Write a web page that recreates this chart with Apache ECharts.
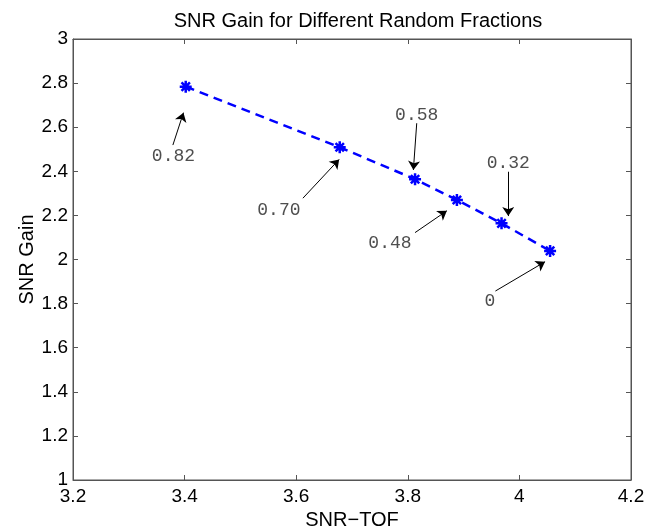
<!DOCTYPE html>
<html>
<head>
<meta charset="utf-8">
<script src="https://cdn.jsdelivr.net/npm/echarts@6/dist/echarts.min.js"></script>
<style>
html,body{margin:0;padding:0;background:#fff;}
#chart{width:663px;height:531px;}
</style>
</head>
<body>
<div id="chart"></div>
<script>
// data points (SNR-TOF, SNR Gain) and their random fraction labels
var fractions = ['0.82', '0.70', '0.58', '0.48', '0.32', '0'];
var snrTof = [3.402, 3.678, 3.813, 3.888, 3.968, 4.055];
var snrGain = [2.784, 2.509, 2.364, 2.270, 2.164, 2.039];
// annotation text positions and arrow tails/heads, in data units
var textX = [3.380, 3.569, 3.816, 3.768, 3.980, 3.947];
var textY = [2.469, 2.224, 2.655, 2.073, 2.436, 1.809];
var tailX = [3.379, 3.612, 3.816, 3.813, 3.980, 3.957];
var tailY = [2.519, 2.278, 2.618, 2.122, 2.398, 1.857];
var headX = [3.398, 3.677, 3.810, 3.870, 3.980, 4.046];
var headY = [2.666, 2.454, 2.406, 2.221, 2.197, 1.990];
// axes
var xMin = 3.2, xMax = 4.2, xStep = 0.2;
var yMin = 1, yMax = 3, yStep = 0.2;

var chart = echarts.init(document.getElementById('chart'));

var pts = [];
for (var i = 0; i < snrTof.length; i++) {
    pts.push([snrTof[i], snrGain[i]]);
}
var arrows = [];
var texts = [];
for (var j = 0; j < fractions.length; j++) {
    arrows.push({coords: [[tailX[j], tailY[j]], [headX[j], headY[j]]]});
    texts.push({value: [textX[j], textY[j]], name: fractions[j]});
}

var star = 'path://M0 -6L0 6M-6 0L6 0M-4.2 -4.2L4.2 4.2M-4.2 4.2L4.2 -4.2';
var fontTxt = 'Liberation Sans, Arial, sans-serif';
var axisGray = '#555';

function fmt(v) {
    return (Math.round(v * 10) / 10).toString();
}

var option = {
    animation: false,
    backgroundColor: '#fff',
    title: {
        text: 'SNR Gain for Different Random Fractions',
        left: 353, top: 6, textAlign: 'center',
        textStyle: {fontFamily: fontTxt, fontSize: 20, fontWeight: 'normal', color: '#000'}
    },
    grid: {left: 73, right: 32, top: 39, bottom: 51, show: true, borderColor: axisGray, borderWidth: 1,
           outerBoundsMode: 'none', containLabel: false},
    xAxis: [{
        type: 'value', min: xMin, max: xMax, interval: xStep,
        name: 'SNR\u2212TOF', nameLocation: 'middle', nameGap: 29,
        nameTextStyle: {fontFamily: fontTxt, fontSize: 20, color: '#000'},
        axisLine: {show: true, onZero: false, lineStyle: {color: axisGray}},
        axisTick: {inside: true, length: 5, lineStyle: {color: axisGray}},
        axisLabel: {fontFamily: fontTxt, fontSize: 19, color: '#000', margin: 7, formatter: fmt},
        splitLine: {show: false}
    }, {
        type: 'value', min: xMin, max: xMax, interval: xStep, position: 'top',
        axisLine: {show: true, lineStyle: {color: axisGray}},
        axisTick: {inside: true, length: 5, lineStyle: {color: axisGray}},
        axisLabel: {show: false}, splitLine: {show: false}
    }],
    yAxis: [{
        type: 'value', min: yMin, max: yMax, interval: yStep,
        name: 'SNR Gain', nameLocation: 'middle', nameGap: 36, nameMoveOverlap: false,
        nameTextStyle: {fontFamily: fontTxt, fontSize: 20, color: '#000'},
        axisLine: {show: true, onZero: false, lineStyle: {color: axisGray}},
        axisTick: {inside: true, length: 5, lineStyle: {color: axisGray}},
        axisLabel: {fontFamily: fontTxt, fontSize: 19, color: '#000', margin: 5, formatter: fmt},
        splitLine: {show: false}
    }, {
        type: 'value', min: yMin, max: yMax, interval: yStep, position: 'right',
        axisLine: {show: true, lineStyle: {color: axisGray}},
        axisTick: {inside: true, length: 5, lineStyle: {color: axisGray}},
        axisLabel: {show: false}, splitLine: {show: false}
    }],
    series: [{
        type: 'line',
        data: pts,
        lineStyle: {color: '#0000ff', width: 2.5, type: [9, 6]},
        symbol: star,
        symbolSize: 12,
        itemStyle: {color: 'none', borderColor: '#0000ff', borderWidth: 2.5},
        z: 3
    }, {
        type: 'lines',
        coordinateSystem: 'cartesian2d',
        data: arrows,
        symbol: ['none', 'arrow'],
        symbolSize: [0, 9],
        lineStyle: {color: '#000', width: 1, opacity: 1},
        z: 2
    }, {
        type: 'scatter',
        data: texts,
        symbolSize: 0,
        label: {
            show: true, position: 'inside',
            formatter: function (p) { return p.name; },
            fontFamily: 'Liberation Mono, Courier New, monospace',
            fontSize: 18, color: '#222'
        },
        z: 4
    }]
};

chart.setOption(option);
</script>
</body>
</html>
